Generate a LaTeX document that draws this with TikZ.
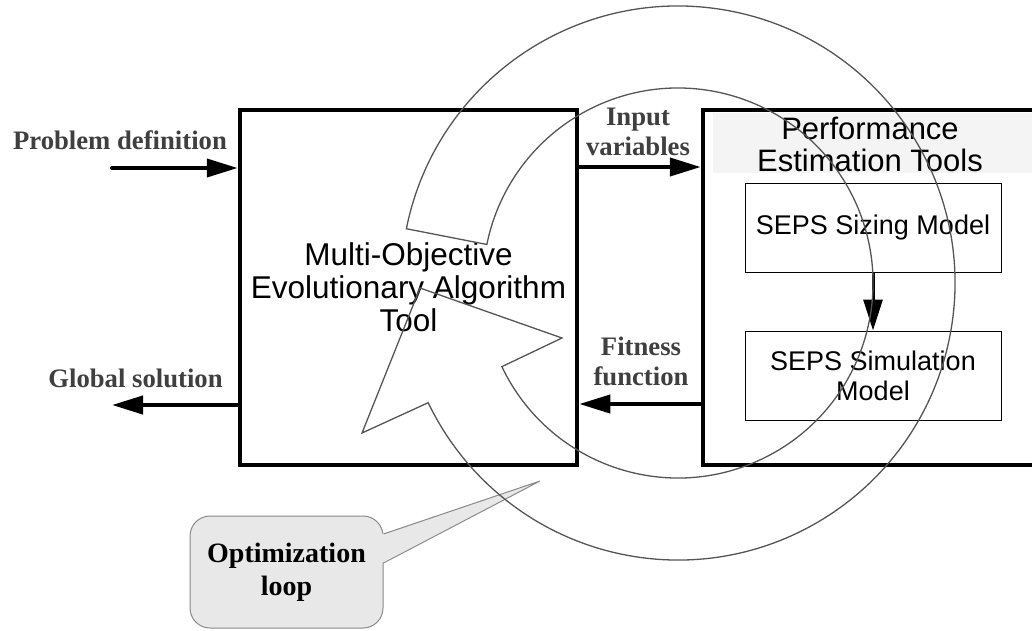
\documentclass[tikz,border=0pt]{standalone}
\usepackage{fontspec}
\setmainfont{Liberation Sans}
\newfontfamily\tnr{Liberation Serif}
\usetikzlibrary{arrows.meta,calc}
\definecolor{labelgray}{HTML}{3F3F3F}
\definecolor{loopgray}{HTML}{555555}
\definecolor{titlebg}{HTML}{F4F4F4}
\definecolor{callfill}{HTML}{E8E8E8}
\definecolor{callline}{HTML}{8A8A8A}
\begin{document}
\begin{tikzpicture}[x=1pt,y=-1pt,
  bigbox/.style={draw, line width=4.5pt, inner sep=0pt, align=center},
  subbox/.style={draw, line width=1pt, minimum width=256pt, minimum height=89pt,
    inner sep=0pt, align=center, font=\fontsize{27}{30}\selectfont},
  flow/.style={line width=4pt, -{Triangle[length=31pt,width=18pt]}},
  lbl/.style={font=\tnr\bfseries\fontsize{26.7}{30}\selectfont, text=labelgray,
    align=center, inner sep=0pt},
  loop/.style={draw=loopgray, line width=1.3pt, line join=miter},
]
\useasboundingbox (0,0) rectangle (1032,630);
\clip (0,0) rectangle (1032,630);

% main blocks
\node[bigbox, minimum width=337pt, minimum height=355pt,
      font=\fontsize{31.5}{33}\selectfont] (moea) at (408.5,287.5)
      {Multi-Objective\\Evolutionary Algorithm\\Tool};
\fill[titlebg] (713,113) rectangle (1040,173);
\node[bigbox, minimum width=342pt, minimum height=355pt] (pet) at (874,287.5) {};
\node[font=\fontsize{31}{32}\selectfont, align=center, inner sep=0pt] (pettitle)
      at (870,144) {Performance\\Estimation Tools};
\node[subbox] (sizing) at (873,227.5) {SEPS Sizing Model};
\node[subbox] (simul) at (873,375.5) {SEPS Simulation\\Model};
\draw[line width=3pt, -{Triangle[length=31pt,width=19pt]}] (sizing.south) -- (simul.north);

% data flows
\coordinate (pdin) at (112,168);
\coordinate (gsout) at (112,405);
\coordinate (iv) at (640,167);
\coordinate (ff) at (640,404);
\draw[flow, line cap=round] (pdin) -- (pdin -| moea.west);
\draw[flow] (moea.west |- gsout) -- (gsout);
\draw[flow] (moea.east |- iv) -- (pet.west |- iv);
\draw[flow] (pet.west |- ff) -- (moea.east |- ff);

\node[lbl] (pdlbl) at (120,140) {Problem definition};
\node[lbl] (gslbl) at (135.5,378) {Global solution};
\node[lbl] (ivlbl) at (638,132) {Input\\variables};
\node[lbl] (fflbl) at (641,361) {Fitness\\function};

% callout
\node[draw=callline, fill=callfill, line width=1pt, rounded corners=20pt,
      minimum width=193pt, minimum height=112pt, inner sep=0pt, align=center,
      font=\tnr\bfseries\fontsize{28}{33}\selectfont] (call) at (286.5,572)
      {Optimization\\loop};
\coordinate (ptip) at (540,481);
\fill[callfill] ($(call.east)+(-2,-38)$) -- (ptip) -- ($(call.east)+(-2,-9)$) -- cycle;
\draw[callline, line width=1pt] ($(call.east)+(0,-38)$) -- (ptip) -- ($(call.east)+(0,-9)$);

% circular optimisation arrow
\coordinate (c) at (678,283);
\draw[loop] ($(c)+(-168.7:277)$) arc[start angle=-168.7, end angle=154.4, radius=277]
  -- (362,433) -- (420,288) -- (562,338)
  -- ($(c)+(154.6:195)$) arc[start angle=154.6, end angle=-168.6, radius=195] -- cycle;
\end{tikzpicture}
\end{document}
